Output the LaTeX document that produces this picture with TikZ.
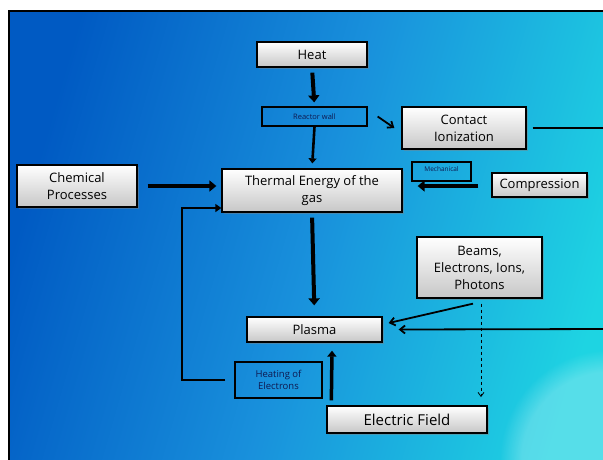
\documentclass[tikz,border=0pt]{standalone}
\usepackage{fontspec}
\setmainfont{Open Sans}
\usetikzlibrary{arrows.meta,shadows,fadings}
\definecolor{bgA}{RGB}{0,90,195}
\definecolor{bgB}{RGB}{25,145,220}
\definecolor{bgC}{RGB}{30,212,226}
\definecolor{smalltxt}{RGB}{15,25,80}
\tikzset{
  box/.style={draw=black, line width=1.3pt, top color=white, bottom color=black!22,
    drop shadow={shadow xshift=1.5pt, shadow yshift=-1.5pt, opacity=0.45},
    inner sep=0pt, align=center, font=\fontsize{13}{17}\selectfont},
  smallbox/.style={draw=black, line width=1.3pt, fill=none, inner sep=0pt,
    align=center, text=smalltxt},
  thick arrow/.style={line width=4pt, -{Triangle[length=7pt,width=11pt]}},
  mid arrow/.style={line width=2.6pt, -{Triangle[length=5pt,width=8pt]}},
  thin arrow/.style={line width=1.8pt, -{Straight Barb[length=5pt,width=8pt]}},
}
\begin{document}
\begin{tikzpicture}[x=1pt,y=-1pt]
\useasboundingbox (0,0) rectangle (603,459);
\fill[white] (0,0) rectangle (603,459);
\shade[top color=bgA, bottom color=bgC, middle color=bgB, shading angle=74]
  (9,11) rectangle (620,470);
\fill[white, opacity=0.25, path fading=circle with fuzzy edge 20 percent] (610,460) circle (110);
\draw[black, line width=2.5pt] (620,11) -- (9,11) -- (9,470);

\node[box, minimum width=110, minimum height=25] (heat) at (312,54.5) {Heat};
\node[smallbox, minimum width=105, minimum height=19, font=\fontsize{7.5}{9}\selectfont] (wall) at (314.5,116.5) {Reactor wall};
\node[box, minimum width=124, minimum height=42] (contact) at (464,128) {Contact\\Ionization};
\node[box, minimum width=120, minimum height=42] (chem) at (77,186) {Chemical\\Processes};
\node[box, minimum width=180, minimum height=43] (thermal) at (312,190.5) {Thermal Energy of the\\gas};
\node[smallbox, minimum width=59, minimum height=19, font=\fontsize{6.5}{8}\selectfont, anchor=center] (mech) at (441.5,171.5) {\raisebox{4pt}{Mechanical}};
\node[box, minimum width=95, minimum height=24] (comp) at (539.5,185) {Compression};
\node[box, minimum width=125, minimum height=61] (beams) at (479.5,267.5) {Beams,\\Electrons, Ions,\\Photons};
\node[box, minimum width=135, minimum height=25] (plasma) at (314.5,329.5) {Plasma};
\node[smallbox, minimum width=87, minimum height=36, font=\fontsize{9.5}{12}\selectfont] (heating) at (278.5,380) {Heating of\\Electrons};
\node[box, minimum width=160, minimum height=27, font=\fontsize{15}{18}\selectfont] (efield) at (407,419.5) {Electric Field};

\coordinate (rightA) at (610,128);
\coordinate (rightB) at (610,329);
\coordinate (dashend) at (481,397);
\coordinate (fbA) at (182,380);
\coordinate (fbB) at (182,208);

\draw[thick arrow, shorten <=5pt, shorten >=4pt] (heat.south) -- (wall.north);
\draw[mid arrow, shorten >=5pt] (wall.south) -- ([xshift=-2.5pt]thermal.north -| wall.south);
\draw[thin arrow] ([xshift=10pt]wall.east) -- ([xshift=-7pt]contact.west);
\draw[line width=1.8pt] ([xshift=6pt]contact.east) -- (rightA);
\draw[thin arrow] (rightB) -- ([xshift=16pt]plasma.east);
\draw[thick arrow, shorten <=10pt, shorten >=5pt] (chem.east) -- (chem.east -| thermal.west);
\draw[thick arrow, shorten <=13pt, shorten >=15pt] (comp.west |- 0,186) -- (thermal.east |- 0,186);
\draw[line width=1.8pt, -{Triangle[length=6pt,width=8pt]}] ([xshift=-9pt]heating.west) -- (fbA) -- (fbB) -- (fbB -| thermal.west);
\draw[thick arrow, shorten <=5pt, shorten >=11pt] (thermal.south) -- (plasma.north);
\draw[thin arrow] ([xshift=-6.5pt,yshift=-5pt]beams.south) -- ([xshift=6pt,yshift=6.5pt]plasma.east);
\draw[line width=0.8pt, dashed, -{Straight Barb[length=4pt,width=6pt]}] ([xshift=1.5pt,yshift=-5pt]beams.south) -- (dashend);
\draw[line width=3.5pt, -{Triangle[length=6pt,width=9pt]}] ([xshift=5pt,yshift=5pt]efield.north west) -- ([xshift=17.5pt,yshift=-8pt]plasma.south);
\end{tikzpicture}
\end{document}
